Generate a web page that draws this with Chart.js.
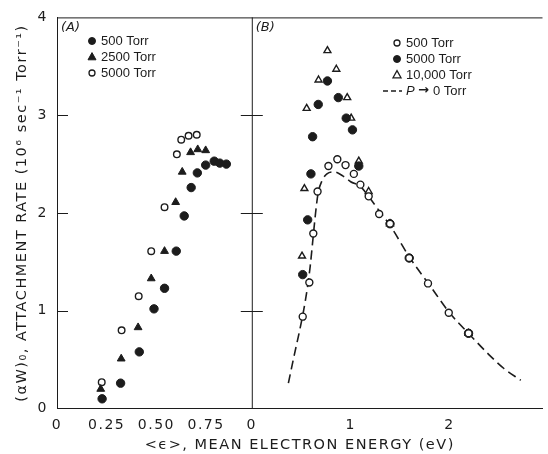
<!DOCTYPE html>
<html>
<head>
<meta charset="utf-8">
<script src="https://cdn.jsdelivr.net/npm/chart.js@4.4.1/dist/chart.umd.min.js"></script>
<style>
  html, body { margin: 0; padding: 0; background: #fff; }
</style>
</head>
<body>
<canvas id="canvas" width="548" height="454"></canvas>
<script>
// Panel A (low energies) - rate vs mean electron energy
const a500x  = [0.227, 0.320, 0.414, 0.488, 0.541, 0.600, 0.640, 0.675, 0.706, 0.748, 0.791, 0.819, 0.852];
const a500y  = [0.10, 0.26, 0.58, 1.02, 1.23, 1.61, 1.97, 2.26, 2.41, 2.49, 2.53, 2.51, 2.50];
const a2500x = [0.220, 0.323, 0.408, 0.474, 0.541, 0.597, 0.630, 0.672, 0.708, 0.748];
const a2500y = [0.20, 0.51, 0.83, 1.33, 1.61, 2.11, 2.42, 2.62, 2.65, 2.64];
const a5000x = [0.225, 0.325, 0.411, 0.474, 0.541, 0.603, 0.625, 0.662, 0.703];
const a5000y = [0.27, 0.80, 1.15, 1.61, 2.06, 2.60, 2.75, 2.79, 2.80];

// Panel B (wider energy range)
const b500x   = [0.515, 0.582, 0.622, 0.665, 0.775, 0.865, 0.948, 1.032, 1.098, 1.182, 1.288, 1.398, 1.592, 1.782, 1.992, 2.192];
const b500y   = [0.94, 1.29, 1.79, 2.22, 2.48, 2.55, 2.49, 2.40, 2.29, 2.17, 1.99, 1.89, 1.54, 1.28, 0.98, 0.77];
const b5000x  = [0.515, 0.565, 0.598, 0.615, 0.672, 0.765, 0.875, 0.955, 1.018, 1.082, 1.398, 1.592, 2.192];
const b5000y  = [1.37, 1.93, 2.40, 2.78, 3.11, 3.35, 3.18, 2.97, 2.85, 2.48, 1.89, 1.54, 0.77];
const b10000x = [0.508, 0.532, 0.555, 0.675, 0.765, 0.855, 0.965, 1.005, 1.082, 1.182, 1.398, 2.192];
const b10000y = [1.56, 2.25, 3.07, 3.36, 3.66, 3.47, 3.18, 2.97, 2.53, 2.22, 1.89, 0.77];
// P -> 0 Torr curve
const zeroX = [0.37, 0.43, 0.48, 0.52, 0.56, 0.59, 0.62, 0.645, 0.67, 0.71, 0.76, 0.83, 0.92, 1.00, 1.10, 1.18, 1.29, 1.40, 1.60, 1.80, 2.00, 2.20, 2.40, 2.55, 2.72];
const zeroY = [0.26, 0.55, 0.78, 0.98, 1.22, 1.45, 1.75, 2.00, 2.20, 2.33, 2.40, 2.42, 2.38, 2.32, 2.27, 2.17, 2.02, 1.87, 1.54, 1.26, 0.98, 0.76, 0.55, 0.41, 0.29];

// ticks
const ticksA = [0, 0.25, 0.5, 0.75];
const ticksALabels = ['0', '0.25', '0.50', '0.75'];
const ticksB = [0, 1, 2];
const ticksBLabels = ['0', '1', '2'];

const ink = '#1c1c1c';
const zip = (xs, ys) => xs.map((x, i) => ({ x: x, y: ys[i] }));

Chart.defaults.font.family = 'DejaVu Sans';
Chart.defaults.font.size = 13;
Chart.defaults.color = ink;

function marker(ctx, style, x, y, r, filled) {
  ctx.beginPath();
  if (style === 'circle') {
    ctx.arc(x, y, r, 0, Math.PI * 2);
  } else {
    ctx.moveTo(x, y - r * 1.1);
    ctx.lineTo(x + r, y + r * 0.7);
    ctx.lineTo(x - r, y + r * 0.7);
    ctx.closePath();
  }
  ctx.fillStyle = filled ? ink : '#fff';
  ctx.fill();
  ctx.lineWidth = filled ? 1 : 1.3;
  ctx.strokeStyle = ink;
  ctx.stroke();
}

// frame, divider between the panels and the little tick marks
const framePlugin = {
  id: 'frame',
  beforeDraw(chart) {
    chart.ctx.letterSpacing = '1.5px';
  },
  beforeDatasetsDraw(chart) {
    const { ctx, chartArea: a, scales } = chart;
    const d = scales.xB.getPixelForValue(0);
    ctx.save();
    ctx.strokeStyle = ink;
    ctx.lineWidth = 1;
    ctx.beginPath();
    ctx.moveTo(a.left, a.top + 0.5);
    ctx.lineTo(a.right, a.top + 0.5);
    ctx.moveTo(d + 0.5, a.top);
    ctx.lineTo(d + 0.5, a.bottom);
    [1, 2, 3].forEach(v => {
      const y = Math.round(scales.y.getPixelForValue(v)) + 0.5;
      ctx.moveTo(a.left, y);
      ctx.lineTo(a.left + 11, y);
      ctx.moveTo(d - 11, y);
      ctx.lineTo(d + 11, y);
    });
    ctx.stroke();
    ctx.restore();
  },
  afterDraw(chart) {
    const ctx = chart.ctx;
    ctx.save();
    ctx.letterSpacing = '0px';
    ctx.fillStyle = ink;
    ctx.textBaseline = 'middle';
    ctx.font = 'italic 13px "DejaVu Sans"';
    const a = chart.chartArea;
    const d = chart.scales.xB.getPixelForValue(0);
    ctx.fillText('(A)', a.left + 4, 28);
    ctx.fillText('(B)', d + 4, 28);

    ctx.font = '13px "Liberation Sans"';
    const pos = { xA: { mx: 92, row: 41 }, xB: { mx: 397, row: 43 } };
    const count = { xA: 0, xB: 0 };
    chart.data.datasets.forEach(ds => {
      const p = pos[ds.xAxisID];
      const y = p.row + count[ds.xAxisID] * 16;
      count[ds.xAxisID]++;
      if (ds.showLine) {
        ctx.save();
        ctx.strokeStyle = ink;
        ctx.lineWidth = 1.6;
        ctx.setLineDash([5, 3]);
        ctx.beginPath();
        ctx.moveTo(p.mx - 14, y);
        ctx.lineTo(p.mx + 5, y);
        ctx.stroke();
        ctx.restore();
        ctx.font = 'italic 13px "Liberation Sans"';
        ctx.fillText('P', p.mx + 9, y);
        ctx.font = 'bold 13px "DejaVu Sans"';
        ctx.fillText('\u2192', p.mx + 21, y);
        ctx.font = '13px "Liberation Sans"';
        ctx.fillText('0 Torr', p.mx + 36, y);
        return;
      }
      const filled = ds.backgroundColor === ink;
      marker(ctx, ds.pointStyle, p.mx, y, ds.pointStyle === 'circle' ? (filled ? 3.5 : 3) : 4, filled);
      ctx.fillStyle = ink;
      ctx.fillText(ds.label, p.mx + 9, y);
    });
    ctx.restore();
  }
};

function pts(label, xs, ys, axis, style, filled, r) {
  return {
    label: label,
    data: zip(xs, ys),
    xAxisID: axis,
    pointStyle: style,
    pointRadius: r,
    pointHoverRadius: r,
    backgroundColor: filled ? ink : '#fff',
    borderColor: ink,
    pointBorderWidth: filled ? 1 : 1.4
  };
}

const datasets = [
  pts('500 Torr', a500x, a500y, 'xA', 'circle', true, 4.2),
  pts('2500 Torr', a2500x, a2500y, 'xA', 'triangle', true, 4.5),
  pts('5000 Torr', a5000x, a5000y, 'xA', 'circle', false, 3.3),
  pts('500 Torr', b500x, b500y, 'xB', 'circle', false, 3.5),
  pts('5000 Torr', b5000x, b5000y, 'xB', 'circle', true, 4.2),
  pts('10,000 Torr', b10000x, b10000y, 'xB', 'triangle', false, 4),
  {
    label: 'P \u2192 0 Torr',
    data: zip(zeroX, zeroY),
    xAxisID: 'xB',
    showLine: true,
    pointRadius: 0,
    borderColor: ink,
    borderWidth: 1.6,
    borderDash: [9, 5],
    cubicInterpolationMode: 'monotone'
  }
];

function xScale(max, weight, ticks, labels) {
  return {
    type: 'linear',
    position: 'bottom',
    stack: 'energy',
    stackWeight: weight,
    min: 0,
    max: max,
    afterBuildTicks: s => { s.ticks = ticks.map(v => ({ value: v })); },
    afterFit: s => { s.height = 24; },
    ticks: { padding: 8, maxRotation: 0, font: { size: 14 }, callback: (v, i) => labels[i] },
    grid: { display: false, drawTicks: false },
    border: { display: true, color: ink, width: 1 }
  };
}

new Chart(document.querySelector('#canvas'), {
  type: 'scatter',
  data: { datasets: datasets },
  options: {
    responsive: false,
    animation: false,
    devicePixelRatio: 1,
    layout: { padding: { top: 17, left: 10, right: 0, bottom: 0 } },
    scales: {
      xA: xScale(0.98, 197, ticksA, ticksALabels),
      xB: xScale(2.94, 294, ticksB, ticksBLabels),
      y: {
        type: 'linear',
        position: 'left',
        min: 0,
        max: 4,
        afterFit: s => { s.width = 47; },
        ticks: { stepSize: 1, padding: 9, font: { size: 14 } },
        grid: { display: false, drawTicks: false },
        border: { display: true, color: ink, width: 1 },
        title: {
          display: true,
          text: '(\u03b1W)\u2080, ATTACHMENT RATE (10\u2076 sec\u207b\u00b9 Torr\u207b\u00b9)',
          font: { size: 14.5 },
          padding: { top: 4, bottom: 0 }
        }
      }
    },
    plugins: {
      legend: { display: false },
      tooltip: { enabled: false },
      title: {
        display: true,
        position: 'bottom',
        fullSize: false,
        text: '<\u03f5>, MEAN ELECTRON ENERGY (eV)',
        font: { size: 14.5, weight: 'normal' },
        padding: { top: 4, bottom: 0 },
        color: ink
      }
    }
  },
  plugins: [framePlugin]
});
</script>
</body>
</html>
